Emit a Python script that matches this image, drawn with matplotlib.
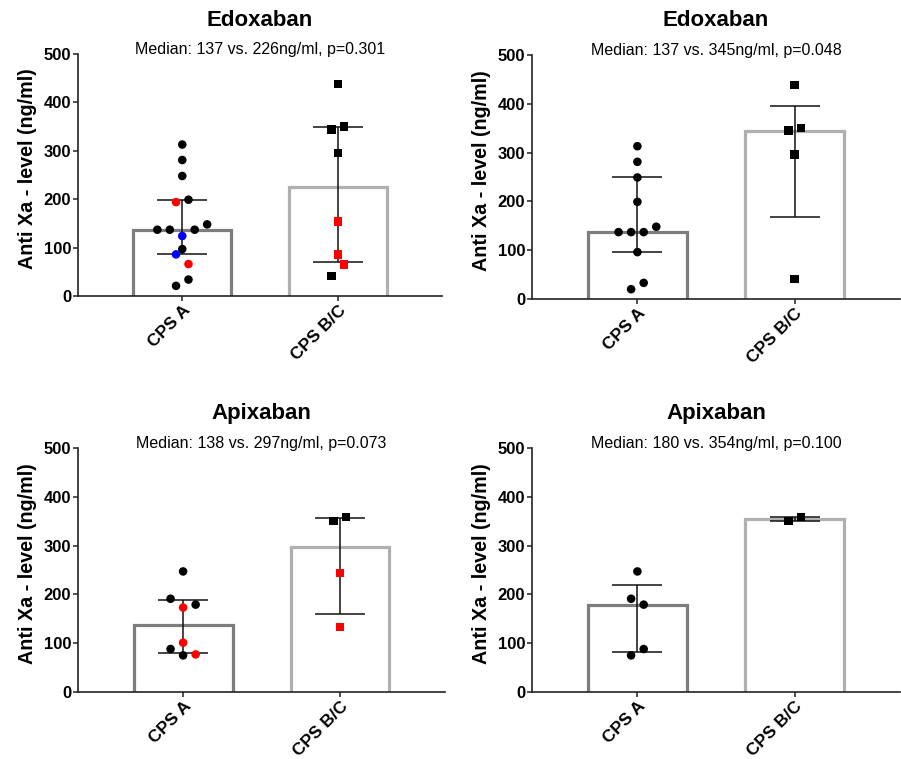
import matplotlib
matplotlib.use('Agg')
import matplotlib.pyplot as plt
import matplotlib.transforms as mtransforms
import numpy as np

plt.rcParams['font.family'] = ['Liberation Sans', 'DejaVu Sans']

categories = ['CPS A', 'CPS B/C']
titles = ['Edoxaban', 'Edoxaban', 'Apixaban', 'Apixaban']
subtitles = [
    'Median: 137 vs. 226ng/ml, p=0.301',
    'Median: 137 vs. 345ng/ml, p=0.048',
    'Median: 138 vs. 297ng/ml, p=0.073',
    'Median: 180 vs. 354ng/ml, p=0.100',
]

# anti Xa levels (ng/ml), in entry order; sub = patient subgroup (0 plain, 1 red, 2 blue)
edox_all_a = [313, 281, 248, 194, 199, 124, 137, 137, 137, 148, 97, 86, 66, 21, 34]
edox_all_a_sub = [0, 0, 0, 1, 0, 2, 0, 0, 0, 0, 0, 2, 1, 0, 0]
edox_all_bc = [438, 344, 350, 296, 154, 86, 41, 65]
edox_all_bc_sub = [0, 0, 0, 0, 1, 1, 0, 1]

edox_sel_a = [313, 281, 249, 199, 137, 137, 137, 148, 96, 20, 33]
edox_sel_a_sub = [0] * 11
edox_sel_bc = [439, 345, 351, 296, 41]
edox_sel_bc_sub = [0] * 5

apix_all_a = [247, 173, 191, 179, 101, 75, 88, 77]
apix_all_a_sub = [0, 1, 0, 0, 1, 0, 0, 1]
apix_all_bc = [350, 359, 244, 133]
apix_all_bc_sub = [0, 0, 1, 1]

apix_sel_a = [247, 191, 179, 75, 88]
apix_sel_a_sub = [0] * 5
apix_sel_bc = [350, 359]
apix_sel_bc_sub = [0, 0]

panels = [
    [(edox_all_a, edox_all_a_sub), (edox_all_bc, edox_all_bc_sub)],
    [(edox_sel_a, edox_sel_a_sub), (edox_sel_bc, edox_sel_bc_sub)],
    [(apix_all_a, apix_all_a_sub), (apix_all_bc, apix_all_bc_sub)],
    [(apix_sel_a, apix_sel_a_sub), (apix_sel_bc, apix_sel_bc_sub)],
]

sub_colors = {0: 'black', 1: '#ff0000', 2: '#0000ff'}
bar_edges = ['#7d7d7d', '#b0b0b0']
markers = ['o', 's']
marker_sizes = [38, 36]

rects = [
    [0.0866, 0.6100, 0.4040, 0.3188],
    [0.5905, 0.6061, 0.4084, 0.3215],
    [0.0866, 0.0883, 0.4073, 0.3215],
    [0.5905, 0.0883, 0.4084, 0.3215],
]


def swarm_offsets(vals, row_h=25, step=0.04):
    # points closer than row_h share a row and get spread symmetrically
    order = sorted(range(len(vals)), key=lambda i: vals[i])
    rows = []
    for i in order:
        if rows and vals[i] - vals[rows[-1][0]] < row_h:
            rows[-1].append(i)
        else:
            rows.append([i])
    offs = np.zeros(len(vals))
    for row in rows:
        row = sorted(row)
        n = len(row)
        if n % 2:
            slots = [0] + [s * k for k in range(2, n + 1, 2) for s in (-1, 1)]
        else:
            slots = [s * k for k in range(1, n + 1, 2) for s in (-1, 1)]
        for k, i in enumerate(row):
            offs[i] = slots[k] * step
    return offs


fig = plt.figure(figsize=(9.01, 7.59), dpi=100)

for p, groups in enumerate(panels):
    ax = fig.add_axes(rects[p])
    for i, (vals, subs) in enumerate(groups):
        vals = np.array(vals, dtype=float)
        med = np.median(vals)
        q1, q3 = np.percentile(vals, [25, 75], method='weibull')
        ax.bar(i, med + 8, bottom=-8, width=0.63, facecolor='white',
               edgecolor=bar_edges[i], linewidth=2.3, zorder=1)
        ax.errorbar(i, med, yerr=[[med - q1], [q3 - med]], fmt='none',
                    ecolor='#111111', elinewidth=1.1, capsize=18, capthick=1.1, zorder=2)
        offs = swarm_offsets(list(vals))
        cols = [sub_colors[s] for s in subs]
        ax.scatter(i + offs, vals, c=cols, marker=markers[i], s=marker_sizes[i],
                   linewidths=0, zorder=3)

    ax.set_xlim(-0.67, 1.67)
    ax.set_ylim(0, 500)
    ax.set_yticks(range(0, 501, 100))
    ax.set_xticks([0, 1])
    ax.set_xticklabels(categories, rotation=45, ha='right', va='top',
                       rotation_mode='anchor', fontsize=12.5, fontweight='bold')
    offset = mtransforms.ScaledTranslation(6 / 100, -5 / 100, fig.dpi_scale_trans)
    for lab in ax.get_xticklabels():
        lab.set_transform(lab.get_transform() + offset)
    for lab in ax.get_yticklabels():
        lab.set_fontweight('bold')
        lab.set_fontsize(12)
    ax.tick_params(axis='both', length=3.5, width=1.1, color='#222222', pad=1.5)
    for side in ('top', 'right'):
        ax.spines[side].set_visible(False)
    for side in ('left', 'bottom'):
        ax.spines[side].set_linewidth(1.2)
        ax.spines[side].set_color('#222222')
        ax.spines[side].set_zorder(4)

    ax.set_ylabel('Anti Xa - level (ng/ml)', fontsize=14.2, fontweight='bold')
    ax.yaxis.set_label_coords(-0.112, 0.525)

    ax.annotate(titles[p], xy=(0.5, 1), xycoords='axes fraction', xytext=(0, 20.5),
                textcoords='offset points', ha='center', va='baseline',
                fontsize=16, fontweight='bold')
    ax.annotate(subtitles[p], xy=(0.5, 1), xycoords='axes fraction', xytext=(0, 0),
                textcoords='offset points', ha='center', va='baseline', fontsize=11.5)

fig.savefig('out.png', dpi=100)
